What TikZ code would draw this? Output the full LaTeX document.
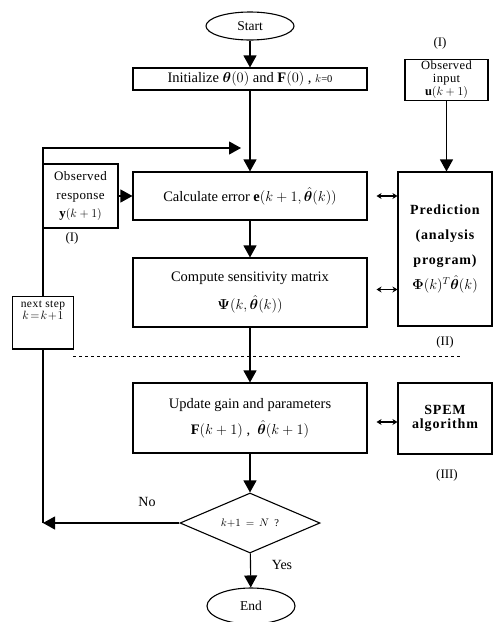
\documentclass[tikz,border=0pt]{standalone}
\usepackage{amsmath,bm}
\usepackage{fontspec}
\setmainfont{Liberation Serif}
\usetikzlibrary{arrows.meta,positioning,shapes.geometric,shadows}
\tikzset{
    %Define standard arrow tip
    >={Triangle[width=13pt,length=12pt]},
    flowbox/.style={
      rectangle,
      draw=black,
      minimum width=234pt,
      inner sep=0pt,
      align=center,
      font=\fontsize{14.5}{17}\selectfont},
    obsbox/.style={
      rectangle,
      draw=black,
      inner xsep=0pt, inner ysep=1.5pt,
      align=center,
      font=\fontsize{12.5}{13}\selectfont\addfontfeature{LetterSpace=3}},
    sidebox/.style={
      rectangle,
      draw=black, fill=white,
      minimum width=94pt,
      inner sep=0pt,
      align=center,
      font=\bfseries\fontsize{14}{25}\selectfont\addfontfeature{LetterSpace=6},
      drop shadow={shadow xshift=1.4pt, shadow yshift=-1.4pt, fill=black, opacity=1}},
    term/.style={
      ellipse,
      draw=black,
      minimum width=88pt, minimum height=28pt,
      inner sep=0pt,
      font=\fontsize{13.5}{15}\selectfont},
    decision/.style={
      diamond,
      draw=black,
      aspect=2.33,
      minimum width=140pt, minimum height=60pt,
      inner sep=0pt,
      font=\fontsize{10.5}{12}\selectfont},
    tag/.style={font=\fontsize{13}{15}\selectfont},
    twoway/.style={{Stealth[length=5pt,width=6pt]}-{Stealth[length=5pt,width=6pt]}, shorten <=9pt},
}

\begin{document}
\begin{tikzpicture}[x=1pt, y=-1pt, line width=1.1pt]
    \useasboundingbox (0,0) rectangle (493,622);
    % main column
    \node (start) [term] at (250,26) {Start};
    \node (init) [flowbox, minimum height=22pt] at (250,79)
          {Initialize $\boldsymbol{\theta}(0)$ and $\mathbf{F}(0)$ , {\fontsize{10.5}{12}\selectfont $k$=0}};
    \node (calc) [flowbox, minimum height=48pt] at (250,196)
          {Calculate error $\mathbf{e}(k+1,\hat{\boldsymbol{\theta}}(k))$};
    \node (sens) [flowbox, minimum height=69pt] at (250,292.5)
          {Compute sensitivity matrix\\[11pt] $\boldsymbol{\Psi}(k,\hat{\boldsymbol{\theta}}(k))$};
    \node (update) [flowbox, minimum height=70pt] at (250,418)
          {Update gain and parameters\\[9pt] $\mathbf{F}(k+1)$ ,\enspace $\hat{\boldsymbol{\theta}}(k+1)$};
    \node (check) [decision] at (250,523) {$k{+}1\,=\,N$\enspace ?};
    \node (end) [term, minimum height=36pt] at (251,606) {End};
    % side boxes
    \node (input) [obsbox, minimum width=83pt, minimum height=40pt] at (446.5,80)
          {Observed\\input\\$\mathbf{u}(k+1)$};
    \node (resp) [obsbox, font=\fontsize{13}{18.5}\selectfont\addfontfeature{LetterSpace=3}, minimum width=75pt, minimum height=64pt] at (80.5,196)
          {Observed\\response\\$\mathbf{y}(k+1)$};
    \node (pred) [sidebox, minimum height=154pt] at (445,249)
          {Prediction\\(analysis\\program)\\$\boldsymbol{\Phi}(k)^T\hat{\boldsymbol{\theta}}(k)$};
    \node (spem) [sidebox, font=\bfseries\fontsize{14}{14.5}\selectfont\addfontfeature{LetterSpace=6}, minimum height=71pt] at (445,418.5)
          {SPEM\\algorithm};
    \node (step) [obsbox, anchor=north, font=\fontsize{11.5}{12}\selectfont\addfontfeature{LetterSpace=4}, minimum width=61pt,
          inner ysep=4pt, text depth=26pt] at (43,296)
          {next step\\$k\!=\!k\!+\!1$};
    % labels
    \node (inI) [tag] at (440,43) {(I)};
    \node (respI) [tag] at (72,238) {(I)};
    \node (predII) [tag] at (445,342) {(II)};
    \node (spemIII) [tag] at (447,475) {(III)};
    \node (no) [tag, font=\fontsize{14}{16}\selectfont] at (147,502) {No};
    \node (yes) [tag, font=\fontsize{14}{16}\selectfont] at (282,565) {Yes};
    % connectors
    \draw[->] (start) -- (init);
    \draw[->] (init) -- (calc);
    \draw[->] (calc) -- (sens);
    \draw[->] (sens) -- (update);
    \draw[->] (update) -- (check);
    \draw[->] (check) -- (end);
    \draw[->] (resp) -- (calc);
    \draw[->] (input.south) -- (input.south |- pred.north);
    \draw[twoway] (calc) -- (calc -| pred.west);
    \draw[twoway] ([yshift=3pt]sens.east) -- ([yshift=3pt]sens.east -| pred.west);
    \draw[twoway] ([yshift=-4pt]update.east) -- ([yshift=-4pt]update.east -| spem.west);
    % loop back
    \coordinate (nocorner) at (43,523);
    \coordinate (loopin) at (241,148);
    \draw[->] (check) -- (nocorner);
    \draw (nocorner) -- (step);
    \draw[->] (step) |- (loopin);
    \draw[dashed, line width=0.6pt] (73,356) -- (462,356);
\end{tikzpicture}
\end{document}
